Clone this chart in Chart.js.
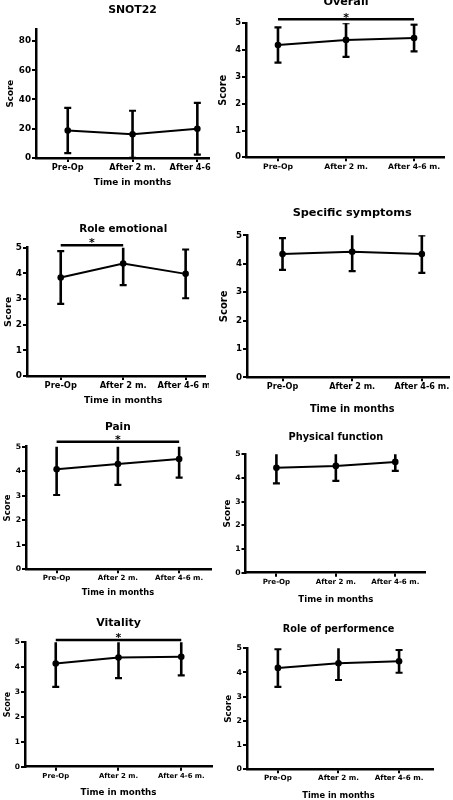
<!DOCTYPE html>
<html><head><meta charset="utf-8">
<script src="https://cdn.jsdelivr.net/npm/chart.js@4/dist/chart.umd.min.js"></script>
<style>
body{margin:0;background:#fff}
#fig{position:relative;width:453px;height:800px;overflow:hidden;background:#fff}
.p{position:absolute}
</style></head><body><div id="fig"></div>
<script>
const categories=["Pre-Op","After 2 m.","After 4-6 m."];
const titles=["SNOT22","Overall","Role emotional","Specific symptoms","Pain","Physical function","Vitality","Role of performence"];
const xTitle="Time in months",yTitle="Score";

// mean and SD per time point
const snot22Mean=[18.8,16.2,20.0],snot22Sd=[15.5,16.1,17.7];
const overallMean=[4.19,4.38,4.45],overallSd=[0.66,0.63,0.5];
const roleEmoMean=[3.84,4.38,3.98],roleEmoSd=[1.03,0.84,0.95];
const specificMean=[4.34,4.42,4.34],specificSd=[0.56,0.68,0.66];
const painMean=[4.08,4.29,4.5],painSd=[1.05,0.85,0.76];
const physicalMean=[4.43,4.51,4.68],physicalSd=[0.66,0.63,0.38];
const vitalityMean=[4.15,4.39,4.42],vitalitySd=[0.94,0.83,0.75];
const rolePerfMean=[4.19,4.38,4.46],rolePerfSd=[0.78,0.69,0.47];

const means=[snot22Mean,overallMean,roleEmoMean,specificMean,painMean,physicalMean,vitalityMean,rolePerfMean];
const sds=[snot22Sd,overallSd,roleEmoSd,specificSd,painSd,physicalSd,vitalitySd,rolePerfSd];
const yMax=[88,5,5,5,5,5,5,5];
const yStep=[20,1,1,1,1,1,1,1];
const sigPairs=[null,[0,2],[0,1],null,[0,2],null,[0,2],null];

// layout of each panel on the page (px)
const panels=[
{x:0,y:0,w:213,h:200,l:36,t:29.3,r:210,b:158,xmin:-0.49,xmax:2.18,ty:10.5,ts:10.9,xy:183,xs:8.9,yx:11,ys:8.8,tk:8.2},
{x:216,y:0,w:237,h:200,l:246,t:23.3,r:444,b:157.3,xmin:-0.47,xmax:2.44,ty:2.5,ts:11.2,xy:0,xs:0,yx:223.5,ys:9.8,tk:7.7,sy:19.3,sa:15},
{x:0,y:200,w:209,h:210,l:27,t:247.7,r:208,b:376,xmin:-0.54,xmax:2.31,ty:229,ts:10.4,xy:401,xs:9,yx:9,ys:9.5,tk:8.3,sy:245.3,sa:240},
{x:216,y:200,w:237,h:215,l:247,t:235.3,r:453,b:377.3,xmin:-0.51,xmax:2.39,ty:213.5,ts:11.3,xy:409,xs:9.7,yx:224,ys:10,tk:8.1},
{x:0,y:405,w:215,h:195,l:26,t:446.7,r:212,b:569.3,xmin:-0.5,xmax:2.52,ty:427.5,ts:10.6,xy:592.7,xs:8.3,yx:7.5,ys:8.5,tk:7.1,sy:441.7,sa:436.5},
{x:216,y:415,w:237,h:190,l:245.5,t:454.3,r:425,b:572.7,xmin:-0.52,xmax:2.5,ty:437,ts:9.8,xy:599.5,xs:8.6,yx:227.3,ys:8.8,tk:7.1},
{x:0,y:600,w:216,h:200,l:25,t:642.3,r:213,b:766.7,xmin:-0.49,xmax:2.49,ty:623.5,ts:11,xy:792.7,xs:8.7,yx:7.5,ys:8,tk:6.9,sy:640,sa:634.5},
{x:216,y:605,w:237,h:195,l:247,t:648.3,r:433,b:769.3,xmin:-0.51,xmax:2.56,ty:629,ts:9.7,xy:795.5,xs:8.3,yx:228.3,ys:8.8,tk:7.2}
];

const FONT='"DejaVu Sans", sans-serif';
Chart.defaults.font.family=FONT;
Chart.defaults.color="#000";

const errorBars={id:"errorBars",afterDatasetsDraw(c,args,o){
const ctx=c.ctx,x=c.scales.x,y=c.scales.y,a=c.chartArea,i=o.i;
ctx.save();
ctx.beginPath();ctx.rect(a.left-10,a.top,a.right-a.left+20,a.bottom-a.top);ctx.clip();
ctx.strokeStyle="#000";
means[i].forEach((m,k)=>{
const px=x.getPixelForValue(k),hi=y.getPixelForValue(m+sds[i][k]),lo=y.getPixelForValue(Math.max(0,m-sds[i][k]));
ctx.lineWidth=2.6;ctx.beginPath();ctx.moveTo(px,hi);ctx.lineTo(px,lo);ctx.stroke();
ctx.lineWidth=2.2;ctx.beginPath();
ctx.moveTo(px-3.5,hi);ctx.lineTo(px+3.5,hi);
ctx.moveTo(px-3.5,lo);ctx.lineTo(px+3.5,lo);
ctx.stroke();
});
ctx.restore();
}};

const panelText={id:"panelText",afterDraw(c,args,o){
const ctx=c.ctx,i=o.i,p=panels[i],x=c.scales.x,a=c.chartArea,mid=x.getPixelForValue(1);
ctx.save();
ctx.fillStyle="#000";ctx.strokeStyle="#000";
ctx.textAlign="center";ctx.textBaseline="middle";
ctx.font=`bold ${p.ts}px ${FONT}`;
ctx.fillText(titles[i],mid,p.ty-p.y);
if(p.xs){ctx.font=`bold ${p.xs}px ${FONT}`;ctx.fillText(xTitle,mid,p.xy-p.y);}
const s=sigPairs[i];
if(s){
const x1=x.getPixelForValue(s[0]),x2=x.getPixelForValue(s[1]);
ctx.lineWidth=2.5;ctx.beginPath();ctx.moveTo(x1,p.sy-p.y);ctx.lineTo(x2,p.sy-p.y);ctx.stroke();
ctx.font=`bold 11px ${FONT}`;ctx.textBaseline="alphabetic";
ctx.fillText("*",(x1+x2)/2,p.sa-p.y+6.4);
ctx.textBaseline="middle";
}
ctx.translate(p.yx-p.x,(a.top+a.bottom)/2);ctx.rotate(-Math.PI/2);
ctx.font=`bold ${p.ys}px ${FONT}`;ctx.fillText(yTitle,0,0);
ctx.restore();
}};

const fig=document.getElementById("fig");
panels.forEach((p,i)=>{
const d=document.createElement("div");
d.className="p";
d.style.cssText=`left:${p.x}px;top:${p.y}px;width:${p.w}px;height:${p.h}px`;
const cv=document.createElement("canvas");
cv.width=p.w;cv.height=p.h;
d.appendChild(cv);fig.appendChild(d);
const axisGrid={drawOnChartArea:false,drawTicks:true,tickLength:4,color:"#000",lineWidth:2};
const axisBorder={display:true,color:"#000",width:2.5};
new Chart(cv,{
type:"line",
data:{datasets:[{
data:means[i].map((v,k)=>({x:k,y:v})),
borderColor:"#000",borderWidth:2,tension:0,
pointRadius:3.3,pointBackgroundColor:"#000",pointBorderWidth:0
}]},
options:{
responsive:false,animation:false,events:[],
layout:{padding:{left:0,bottom:0,top:p.t-p.y,right:p.x+p.w-p.r}},
plugins:{legend:{display:false},tooltip:{enabled:false},errorBars:{i},panelText:{i}},
scales:{
x:{type:"linear",min:p.xmin,max:p.xmax,
afterBuildTicks:s=>{s.ticks=s.ticks.filter(t=>Number.isInteger(t.value)&&t.value>=0&&t.value<categories.length)},
afterFit:s=>{s.height=p.y+p.h-p.b;s.paddingLeft=0;s.paddingRight=0},
grid:axisGrid,border:axisBorder,
ticks:{stepSize:1,includeBounds:false,autoSkip:false,maxRotation:0,minRotation:0,padding:1,color:"#000",
font:{size:p.tk,weight:"bold"},callback:v=>categories[v]}},
y:{min:0,max:yMax[i],
afterBuildTicks:s=>{s.ticks=s.ticks.filter(t=>t.value%yStep[i]===0)},
afterFit:s=>{s.width=p.l-p.x;s.paddingTop=0;s.paddingBottom=0},
grid:axisGrid,border:axisBorder,
ticks:{stepSize:yStep[i],includeBounds:false,padding:1,color:"#000",font:{size:p.tk+0.6,weight:"bold"}}}
}
},
plugins:[errorBars,panelText]
});
});
</script>
</body></html>
